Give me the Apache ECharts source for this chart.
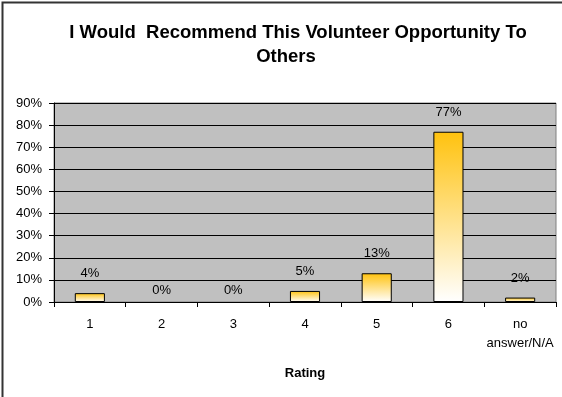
<!DOCTYPE html>
<html>
<head>
<meta charset="utf-8">
<script src="https://cdn.jsdelivr.net/npm/echarts@6/dist/echarts.min.js"></script>
<style>
  html, body { margin: 0; padding: 0; background: #fff; }
  #chart { width: 562px; height: 397px; }
</style>
</head>
<body>
<div id="chart"></div>
<script>
// Survey results: share of respondents per rating
const titleLine1 = 'I Would  Recommend This Volunteer Opportunity To';
const titleLine2 = 'Others';
const ratings = ['1', '2', '3', '4', '5', '6', 'no\nanswer/N/A'];
const percentages = [4, 0, 0, 5, 13, 77, 2];
const yTicks = [0, 10, 20, 30, 40, 50, 60, 70, 80, 90];
const xAxisTitle = 'Rating';

const FONT = 'Arial, "Liberation Sans", sans-serif';

const barFill = new echarts.graphic.LinearGradient(0, 0, 0, 1, [
  { offset: 0, color: '#FFC20E' },
  { offset: 1, color: '#FFFFFF' }
]);

// Empty bars keep their label close to the axis
const barData = percentages.map(v => (
  v === 0 ? { value: v, label: { distance: 5 }, itemStyle: { borderWidth: 0 } } : v
));

const chart = echarts.init(document.getElementById('chart'), null, { renderer: 'canvas' });

chart.setOption({
  animation: false,
  backgroundColor: '#ffffff',
  title: [
    {
      text: titleLine1,
      left: 293, top: 18, textAlign: 'center',
      textStyle: { fontFamily: FONT, fontSize: 18.5, fontWeight: 'bold', color: '#000' }
    },
    {
      text: titleLine2,
      left: 281, top: 42, textAlign: 'center',
      textStyle: { fontFamily: FONT, fontSize: 18.5, fontWeight: 'bold', color: '#000' }
    }
  ],
  grid: {
    left: 54, right: 6, top: 103, bottom: 95,
    show: true,
    backgroundColor: '#C0C0C0',
    borderColor: '#808080',
    borderWidth: 1
  },
  xAxis: {
    type: 'category',
    data: ratings,
    name: xAxisTitle,
    nameLocation: 'middle',
    nameGap: 65,
    nameTextStyle: { fontFamily: FONT, fontSize: 13, fontWeight: 'bold', color: '#000' },
    axisLine: { show: true, lineStyle: { color: '#000', width: 1 } },
    axisTick: { show: true, alignWithLabel: false, length: 5, lineStyle: { color: '#000' } },
    axisLabel: {
      fontFamily: FONT, fontSize: 13, color: '#000', margin: 13, lineHeight: 19,
      interval: 0
    }
  },
  yAxis: {
    type: 'value',
    min: 0, max: 90, interval: 10,
    axisLine: { show: true, lineStyle: { color: '#000', width: 1 } },
    axisTick: { show: true, length: 5, lineStyle: { color: '#000' } },
    axisLabel: {
      fontFamily: FONT, fontSize: 13, color: '#000', margin: 12,
      formatter: v => yTicks.includes(v) ? v + '%' : ''
    },
    splitLine: { show: true, lineStyle: { color: '#000', width: 1 } }
  },
  series: [{
    type: 'bar',
    data: barData,
    barCategoryGap: '58%',
    itemStyle: { color: barFill, borderColor: '#000', borderWidth: 1 },
    label: {
      show: true, position: 'top', distance: 13,
      fontFamily: FONT, fontSize: 13, color: '#000',
      formatter: p => p.value + '%'
    }
  }],
  graphic: [{
    type: 'rect',
    shape: { x: 2.5, y: 2.5, width: 620, height: 460 },
    style: { fill: 'none', stroke: '#333', lineWidth: 2 },
    silent: true
  }]
});
</script>
</body>
</html>
